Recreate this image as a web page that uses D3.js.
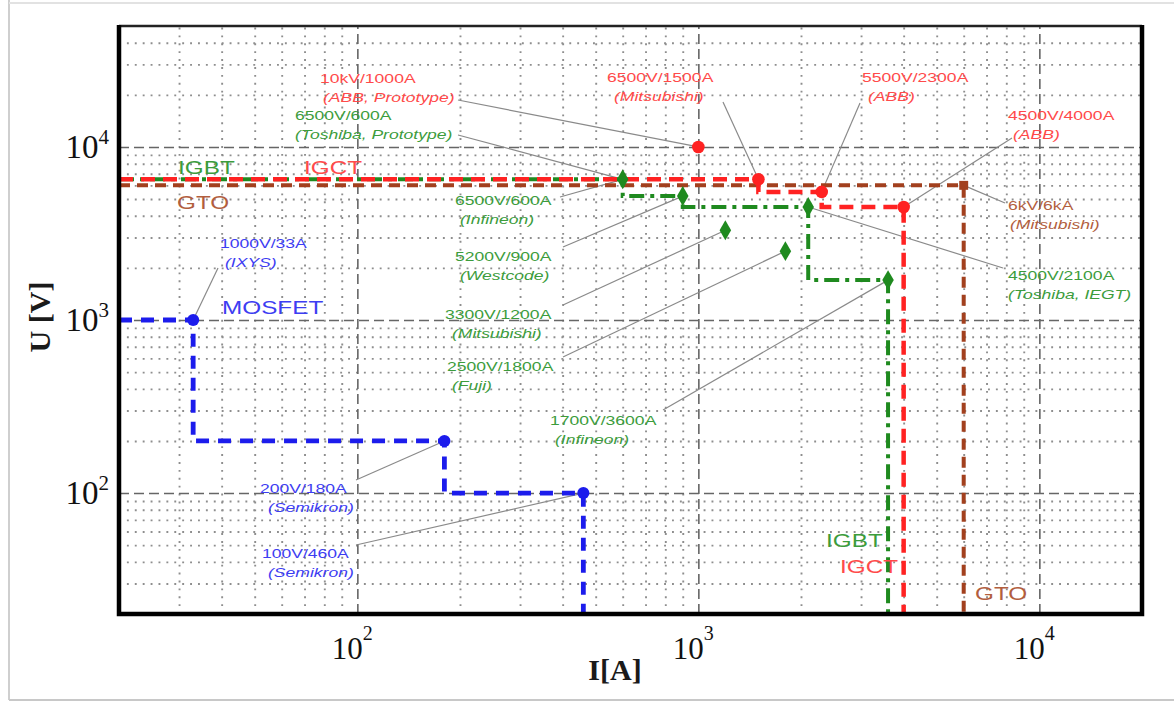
<!DOCTYPE html>
<html>
<head>
<meta charset="UTF-8">
<script src="https://d3js.org/d3.v7.min.js"></script>
<style>
body { margin: 0; background: #fff; }
</style>
</head>
<body>
<svg id="chart"></svg>
<script>
// device limits (current in A, voltage in V)
const mosfetI = [33, 180, 460];
const mosfetV = [1000, 200, 100];
const igbtI = [600, 900, 2100, 3600];
const igbtV = [6500, 5200, 4500, 1700];
const igbtExtraI = [1200, 1800];
const igbtExtraV = [3300, 2500];
const igctI = [1500, 2300, 4000];
const igctV = [6500, 5500, 4500];
const igctExtraI = [1000];
const igctExtraV = [10000];
const gtoI = [6000];
const gtoV = [6000];

const xTicks = [100, 1000, 10000];
const yTicks = [100, 1000, 10000];
const tickExp = {100: "2", 1000: "3", 10000: "4"};

// annotated devices
const noteRating = ["10kV/1000A", "6500V/600A", "6500V/1500A", "5500V/2300A", "4500V/4000A", "6kV/6kA",
  "4500V/2100A", "6500V/600A", "5200V/900A", "3300V/1200A", "2500V/1800A", "1700V/3600A",
  "1000V/33A", "200V/180A", "100V/460A"];
const noteMaker = ["(ABB, Prototype)", "(Toshiba, Prototype)", "(Mitsubishi)", "(ABB)", "(ABB)", "(Mitsubishi)",
  "(Toshiba, IEGT)", "(Infineon)", "(Westcode)", "(Mitsubishi)", "(Fuji)", "(Infineon)",
  "(IXYS)", "(Semikron)", "(Semikron)"];
const noteI = [1000, 600, 1500, 2300, 4000, 6000, 2100, 600, 900, 1200, 1800, 3600, 33, 180, 460];
const noteV = [10000, 6500, 6500, 5500, 4500, 6000, 4500, 6500, 5200, 3300, 2500, 1700, 1000, 200, 100];
const noteDevice = ["IGCT", "IGBT", "IGCT", "IGCT", "IGCT", "GTO", "IGBT", "IGBT", "IGBT", "IGBT", "IGBT", "IGBT",
  "MOSFET", "MOSFET", "MOSFET"];

const groupNames = ["IGBT", "IGCT", "GTO", "MOSFET", "IGBT", "IGCT", "GTO"];

// layout only: where the text blocks sit (px)
const noteLayout = [
  {tx: 320, ty: 83, t2: 3, lx: 458, ly: 100},
  {tx: 295, ty: 120, t2: 0, lx: 458, ly: 135},
  {tx: 607, ty: 82, t2: 7, lx: 723, ly: 102},
  {tx: 862, ty: 82, t2: 6, lx: 860, ly: 103},
  {tx: 1008, ty: 120, t2: 5, lx: 1012, ly: 138},
  {tx: 1008, ty: 210, t2: 2, lx: 1005, ly: 203},
  {tx: 1008, ty: 280, t2: 0, lx: 1003, ly: 268},
  {tx: 455, ty: 205, t2: 5, lx: 560, ly: 197},
  {tx: 455, ty: 261, t2: 5, lx: 563, ly: 247},
  {tx: 445, ty: 319, t2: 7, lx: 563, ly: 305},
  {tx: 447, ty: 371, t2: 5, lx: 563, ly: 357},
  {tx: 550, ty: 425, t2: 5, lx: 663, ly: 410},
  {tx: 220, ty: 248, t2: 5, lx: 218, ly: 268},
  {tx: 260, ty: 493, t2: 8, lx: 356, ly: 480},
  {tx: 262, ty: 558, t2: 6, lx: 356, ly: 545}
];
const groupLayout = [[178, 174], [304, 174], [177, 209], [222, 314], [826, 547], [840, 573], [975, 600]];

const lineColor = {MOSFET: "#1c1cec", IGBT: "#1f8a1f", IGCT: "#ff2222", GTO: "#a2401e"};
const textColor = {MOSFET: "#3d3df2", IGBT: "#3c9c3c", IGCT: "#ff4a4a", GTO: "#b25e3e"};
const groupColor = ["IGBT", "IGCT", "GTO", "MOSFET", "IGBT", "IGCT", "GTO"];

const width = 1174, height = 704;
const box = {left: 119, right: 1142, top: 26, bottom: 614};

const svg = d3.select("#chart").attr("width", width).attr("height", height);

// picture frame shadow
svg.append("line").attr("x1", 9).attr("x2", 9).attr("y1", 0).attr("y2", 700).attr("stroke", "#cfcfcf").attr("stroke-width", 2);
svg.append("line").attr("x1", 9).attr("x2", 1174).attr("y1", 3).attr("y2", 3).attr("stroke", "#e2e2e2").attr("stroke-width", 2);
svg.append("line").attr("x1", 9).attr("x2", 1174).attr("y1", 700).attr("y2", 700).attr("stroke", "#c8c8c8").attr("stroke-width", 2);

const x = d3.scaleLog().domain([20, 20000]).range([box.left, box.right]);
const y = d3.scaleLog().domain([20, 50000]).range([box.bottom, box.top]);

const isDecade = v => Math.abs(Math.log10(v) - Math.round(Math.log10(v))) < 1e-9;

// minor grid (dotted)
svg.append("g")
  .attr("transform", `translate(0,${box.bottom})`)
  .call(d3.axisBottom(x).tickValues(x.ticks().filter(v => !isDecade(v) && v > 20 && v < 20000))
    .tickSize(-(box.bottom - box.top)).tickFormat(""))
  .call(g => g.select(".domain").remove())
  .call(g => g.selectAll("line").attr("stroke", "#8e8e8e").attr("stroke-width", 1.9).attr("stroke-dasharray", "1.9,6"));
svg.append("g")
  .attr("transform", `translate(${box.left},0)`)
  .call(d3.axisLeft(y).tickValues(y.ticks().filter(v => !isDecade(v) && v > 20 && v < 50000))
    .tickSize(-(box.right - box.left)).tickFormat(""))
  .call(g => g.select(".domain").remove())
  .call(g => g.selectAll("line").attr("stroke", "#8e8e8e").attr("stroke-width", 1.9).attr("stroke-dasharray", "1.9,6"));

// major grid (dashed)
svg.append("g")
  .attr("transform", `translate(0,${box.bottom})`)
  .call(d3.axisBottom(x).tickValues(xTicks).tickSize(-(box.bottom - box.top)).tickFormat(""))
  .call(g => g.select(".domain").remove())
  .call(g => g.selectAll("line").attr("stroke", "#666").attr("stroke-width", 1.6).attr("stroke-dasharray", "10,5"));
svg.append("g")
  .attr("transform", `translate(${box.left},0)`)
  .call(d3.axisLeft(y).tickValues(yTicks).tickSize(-(box.right - box.left)).tickFormat(""))
  .call(g => g.select(".domain").remove())
  .call(g => g.selectAll("line").attr("stroke", "#666").attr("stroke-width", 1.6).attr("stroke-dasharray", "10,5"));

// step envelope: horizontal at V until I, then down to next V
function envelope(I, V) {
  const pts = [[x.domain()[0], V[0]]];
  I.forEach((c, i) => {
    pts.push([c, V[i]]);
    pts.push([c, i < I.length - 1 ? V[i + 1] : y.domain()[0]]);
  });
  return pts;
}
const line = d3.line().x(d => x(d[0])).y(d => y(d[1]));

// leader lines
svg.append("g").selectAll("line")
  .data(noteLayout)
  .enter().append("line")
  .attr("x1", d => d.lx).attr("y1", d => d.ly)
  .attr("x2", (d, i) => x(noteI[i])).attr("y2", (d, i) => y(noteV[i]))
  .attr("stroke", "#8a8a8a").attr("stroke-width", 1.2);

const curves = [
  {name: "GTO", I: gtoI, V: gtoV, dash: "11,7", w: 4},
  {name: "IGBT", I: igbtI, V: igbtV, dash: "15,6,4,6", w: 4},
  {name: "IGCT", I: igctI, V: igctV, dash: "14,8", w: 4.5},
  {name: "MOSFET", I: mosfetI, V: mosfetV, dash: "13,9", w: 4.8}
];
svg.append("g").selectAll("path")
  .data(curves)
  .enter().append("path")
  .attr("d", d => line(envelope(d.I, d.V)))
  .attr("fill", "none")
  .attr("stroke", d => lineColor[d.name])
  .attr("stroke-width", d => d.w)
  .attr("stroke-dasharray", d => d.dash);

// markers
const marks = svg.append("g");
function dots(I, V, color, shape, size) {
  marks.selectAll(null)
    .data(I.map((c, i) => [c, V[i]]))
    .enter().append("path")
    .attr("transform", d => `translate(${x(d[0])},${y(d[1])})`)
    .attr("d", d3.symbol().type(shape).size(size))
    .attr("fill", color);
}
dots(mosfetI, mosfetV, lineColor.MOSFET, d3.symbolCircle, 115);
dots(igctI, igctV, lineColor.IGCT, d3.symbolCircle, 125);
dots(igctExtraI, igctExtraV, lineColor.IGCT, d3.symbolCircle, 125);
dots(igbtI, igbtV, lineColor.IGBT, d3.symbolDiamond, 115);
dots(igbtExtraI, igbtExtraV, lineColor.IGBT, d3.symbolDiamond, 115);
dots(gtoI, gtoV, lineColor.GTO, d3.symbolSquare, 80);

// annotation text
const notes = svg.append("g").attr("font-family", "Liberation Sans, Arial, sans-serif").attr("font-size", 13);
noteLayout.forEach((d, i) => {
  notes.append("text")
    .attr("transform", `translate(${d.tx},${d.ty}) scale(1.35,1)`)
    .attr("fill", textColor[noteDevice[i]])
    .text(noteRating[i]);
  notes.append("text")
    .attr("transform", `translate(${d.tx + d.t2},${d.ty + 18.5}) scale(1.35,1)`)
    .attr("fill", textColor[noteDevice[i]])
    .attr("font-style", "italic")
    .text(noteMaker[i]);
});

// device family labels
svg.append("g").selectAll("text")
  .data(groupNames)
  .enter().append("text")
  .attr("transform", (d, i) => `translate(${groupLayout[i][0]},${groupLayout[i][1]}) scale(1.28,1)`)
  .attr("font-family", "Liberation Sans, Arial, sans-serif")
  .attr("font-size", 19)
  .attr("fill", (d, i) => textColor[groupColor[i]])
  .text(d => d);

// plot frame
svg.append("line").attr("x1", box.left).attr("x2", box.right).attr("y1", box.top).attr("y2", box.top)
  .attr("stroke", "#222").attr("stroke-width", 2.5);
svg.append("path")
  .attr("d", `M${box.left},${box.top - 1}V${box.bottom}H${box.right}V${box.top - 1}`)
  .attr("fill", "none").attr("stroke", "#000").attr("stroke-width", 4.5);

// tick labels
const tickFont = "Liberation Serif, Times New Roman, serif";
const xl = svg.append("g").attr("font-family", tickFont).attr("fill", "#111");
xTicks.forEach(t => {
  const tx = xl.append("text").attr("x", x(t) - 5).attr("y", 659).attr("text-anchor", "middle").attr("font-size", 31);
  tx.append("tspan").text("10");
  tx.append("tspan").attr("dy", -19).attr("font-size", 20).text(tickExp[t]);
});
const yl = svg.append("g").attr("font-family", tickFont).attr("fill", "#111");
yTicks.forEach(t => {
  const ty = yl.append("text").attr("x", 109).attr("y", y(t) + 11).attr("text-anchor", "end").attr("font-size", 33);
  ty.append("tspan").text("10");
  ty.append("tspan").attr("dy", -14).attr("font-size", 21).text(tickExp[t]);
});

// axis titles
svg.append("text")
  .attr("transform", "translate(50,317) rotate(-90)")
  .attr("text-anchor", "middle")
  .attr("font-family", tickFont).attr("font-weight", "bold").attr("font-size", 30)
  .attr("fill", "#1a1a1a")
  .text("U [V]");
svg.append("text")
  .attr("x", 615).attr("y", 680)
  .attr("text-anchor", "middle")
  .attr("font-family", tickFont).attr("font-weight", "bold").attr("font-size", 30)
  .attr("fill", "#1a1a1a")
  .text("I[A]");
</script>
</body>
</html>
